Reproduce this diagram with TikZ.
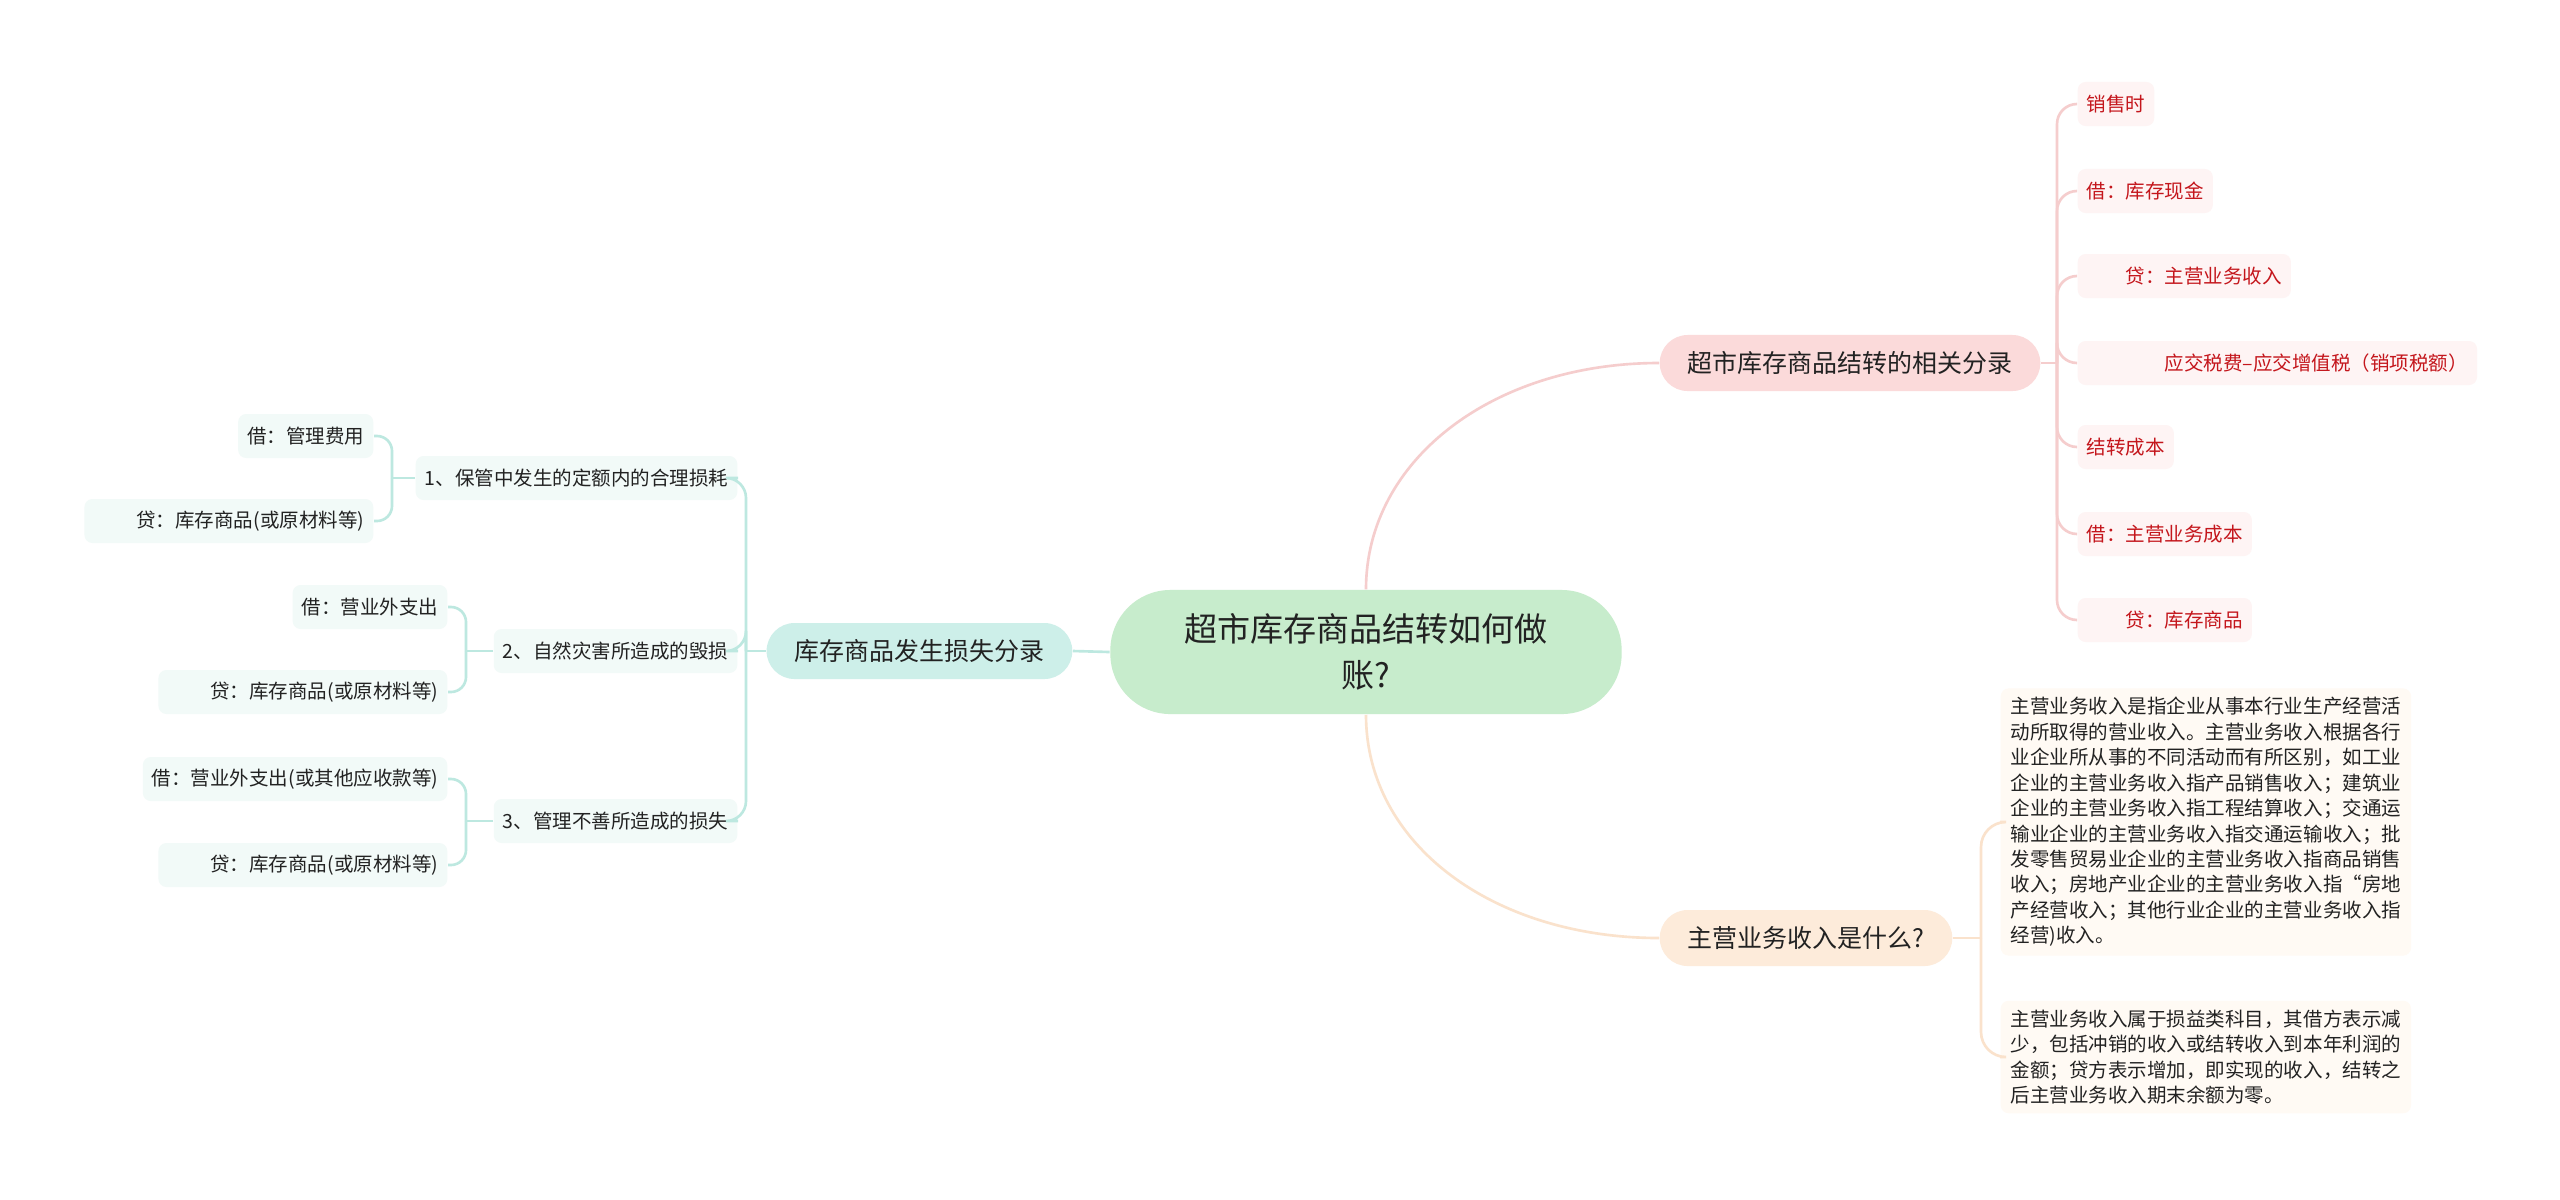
\documentclass[tikz,border=0pt]{standalone}
\usepackage{fontspec}
\newfontfamily\cjk{Noto Sans CJK SC}
\usetikzlibrary{calc}
\definecolor{rootgreen}{HTML}{C7ECCC}
\definecolor{lossfill}{HTML}{CDEFE9}
\definecolor{lossline}{HTML}{BDE8E0}
\definecolor{lossleaf}{HTML}{F2FAF8}
\definecolor{relfill}{HTML}{FBDADA}
\definecolor{relline}{HTML}{F5CDCD}
\definecolor{relleaf}{HTML}{FEF4F4}
\definecolor{reltext}{HTML}{C4161C}
\definecolor{revfill}{HTML}{FDEBDA}
\definecolor{revline}{HTML}{FAE2CC}
\definecolor{revleaf}{HTML}{FFFAF4}
\definecolor{inkgray}{HTML}{222222}

\begin{document}
\begin{tikzpicture}[x=0.01cm, y=-0.01cm,
    every node/.style={text=inkgray},
    rootbox/.style={fill=rootgreen, rounded corners=0.6cm, minimum width=5.11cm, minimum height=1.24cm, align=center, font=\cjk\fontsize{9.4}{13.1}\selectfont},
    topicbox/.style={rounded corners=0.28cm, minimum height=0.56cm, inner xsep=0.28cm, inner ysep=0pt, font=\cjk\fontsize{7.1}{8.5}\selectfont},
    leafbox/.style={rounded corners=0.08cm, minimum height=0.44cm, inner xsep=0.09cm, inner ysep=0pt, font=\cjk\fontsize{5.55}{7.2}\selectfont},
    notebox/.style={rounded corners=0.08cm, fill=revleaf, align=left, inner xsep=0.1cm, inner ysep=0.09cm, font=\cjk\fontsize{5.55}{7.23}\selectfont},
    lossedge/.style={draw=lossline, line width=0.75pt},
    reledge/.style={draw=relline, line width=0.75pt},
    revedge/.style={draw=revline, line width=0.75pt}]
        \path[fill=white] (0,0) rectangle (2560,1199);

        % centre
        \node[rootbox] (root) at (1366,652) {超市库存商品结转如何做\\账?};

        % left branch
        \node[topicbox, fill=lossfill, anchor=east] (loss) at (1073,651) {库存商品发生损失分录};
        \coordinate (lossfork) at (746,651);
        \node[leafbox, fill=lossleaf, anchor=east] (lossa) at (738,478) {1、保管中发生的定额内的合理损耗};
        \node[leafbox, fill=lossleaf, anchor=east] (lossb) at (738,651) {2、自然灾害所造成的毁损};
        \node[leafbox, fill=lossleaf, anchor=east] (lossc) at (738,821) {3、管理不善所造成的损失};
        \coordinate (forka) at (392,478);
        \coordinate (forkb) at (466,651);
        \coordinate (forkc) at (466,821);
        \node[leafbox, fill=lossleaf, anchor=east] (lossa1) at (374,436) {借：管理费用};
        \node[leafbox, fill=lossleaf, anchor=east] (lossa2) at (374,521) {\hspace*{2.2em}贷：库存商品(或原材料等)};
        \node[leafbox, fill=lossleaf, anchor=east] (lossb1) at (448,607) {借：营业外支出};
        \node[leafbox, fill=lossleaf, anchor=east] (lossb2) at (448,692) {\hspace*{2.2em}贷：库存商品(或原材料等)};
        \node[leafbox, fill=lossleaf, anchor=east] (lossc1) at (448,779) {借：营业外支出(或其他应收款等)};
        \node[leafbox, fill=lossleaf, anchor=east] (lossc2) at (448,865) {\hspace*{2.2em}贷：库存商品(或原材料等)};

        \path[lossedge] (root.west) -- (loss.east);
        \path[lossedge] (loss.west) -- (lossfork);
        \foreach \item in {lossa,lossb,lossc}
            \path[lossedge, rounded corners=0.2cm] (lossfork) |- (\item.east);
        \path[lossedge] (lossa.west) -- (forka);
        \path[lossedge] (lossb.west) -- (forkb);
        \path[lossedge] (lossc.west) -- (forkc);
        \foreach \leaf/\fork in {lossa1/forka,lossa2/forka,lossb1/forkb,lossb2/forkb,lossc1/forkc,lossc2/forkc}
            \path[lossedge, rounded corners=0.15cm] (\fork) |- (\leaf.east);

        % upper right branch
        \node[topicbox, fill=relfill, anchor=west] (rel) at (1659,363) {超市库存商品结转的相关分录};
        \coordinate (relfork) at (2057,363);
        \node[leafbox, fill=relleaf, text=reltext, anchor=west] (rela) at (2077,104) {销售时};
        \node[leafbox, fill=relleaf, text=reltext, anchor=west] (relb) at (2077,191) {借：库存现金};
        \node[leafbox, fill=relleaf, text=reltext, anchor=west] (relc) at (2077,276) {\hspace*{2em}贷：主营业务收入};
        \node[leafbox, fill=relleaf, text=reltext, anchor=west] (reld) at (2077,363) {\hspace*{4em}应交税费–应交增值税（销项税额）};
        \node[leafbox, fill=relleaf, text=reltext, anchor=west] (rele) at (2077,447) {结转成本};
        \node[leafbox, fill=relleaf, text=reltext, anchor=west] (relf) at (2077,534) {借：主营业务成本};
        \node[leafbox, fill=relleaf, text=reltext, anchor=west] (relg) at (2077,620) {\hspace*{2em}贷：库存商品};

        \path[reledge] (root.north) .. controls +(0,-130) and +(-165,0) .. (rel.west);
        \path[reledge] (rel.east) -- (relfork);
        \foreach \leaf in {rela,relb,relc,reld,rele,relf,relg}
            \path[reledge, rounded corners=0.2cm] (relfork) |- (\leaf.west);

        % lower right branch
        \node[topicbox, fill=revfill, anchor=west] (rev) at (1659,938) {主营业务收入是什么?};
        \coordinate (revfork) at (1981,938);
        \node[notebox, anchor=west] (reva) at (2000,822) {主营业务收入是指企业从事本行业生产经营活\\动所取得的营业收入。主营业务收入根据各行\\业企业所从事的不同活动而有所区别，如工业\\企业的主营业务收入指产品销售收入；建筑业\\企业的主营业务收入指工程结算收入；交通运\\输业企业的主营业务收入指交通运输收入；批\\发零售贸易业企业的主营业务收入指商品销售\\收入；房地产业企业的主营业务收入指“房地\\产经营收入；其他行业企业的主营业务收入指\\经营)收入。};
        \node[notebox, anchor=west] (revb) at (2000,1057) {主营业务收入属于损益类科目，其借方表示减\\少，包括冲销的收入或结转收入到本年利润的\\金额；贷方表示增加，即实现的收入，结转之\\后主营业务收入期末余额为零。};

        \path[revedge] (root.south) .. controls +(0,130) and +(-165,0) .. (rev.west);
        \path[revedge] (rev.east) -- (revfork);
        \foreach \leaf in {reva,revb}
            \path[revedge, rounded corners=0.25cm] (revfork) |- (\leaf.west);
\end{tikzpicture}
\end{document}
